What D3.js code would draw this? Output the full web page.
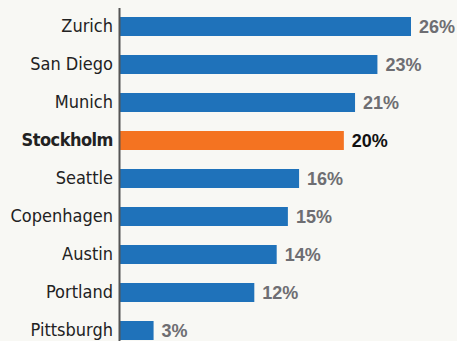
<!DOCTYPE html>
<html>
<head>
<meta charset="utf-8">
<script src="https://cdn.jsdelivr.net/npm/d3@7"></script>
<style>
  html, body { margin: 0; padding: 0; background: #f8f8f4; }
  svg { display: block; }
</style>
</head>
<body>
<svg id="chart" width="457" height="341"></svg>
<script>
// Share of respondents by city
const cities = ["Zurich", "San Diego", "Munich", "Stockholm", "Seattle", "Copenhagen", "Austin", "Portland", "Pittsburgh"];
const shares = [26, 23, 21, 20, 16, 15, 14, 12, 3];
const highlight = "Stockholm";

const data = cities.map((c, i) => ({ city: c, value: shares[i] }));

const svg = d3.select("#chart");
const axisX = 119;

const x = d3.scaleLinear()
  .domain([0, d3.max(shares)])
  .range([120, 411]);

const y = d3.scaleBand()
  .domain(cities)
  .range([7.5, 349.5])
  .paddingInner(0.5)
  .paddingOuter(0.25);

// bars
svg.append("g").selectAll("rect")
  .data(data)
  .join("rect")
  .attr("x", x(0))
  .attr("y", d => y(d.city))
  .attr("width", d => x(d.value) - x(0))
  .attr("height", y.bandwidth())
  .attr("fill", d => d.city === highlight ? "#f47321" : "#1f72ba");

// value labels
svg.append("g").selectAll("text")
  .data(data)
  .join("text")
  .attr("x", d => x(d.value) + 8)
  .attr("y", d => y(d.city) + y.bandwidth() / 2)
  .attr("dy", "0.35em")
  .attr("font-family", "'Liberation Sans', Arial, sans-serif")
  .attr("font-weight", "bold")
  .attr("font-size", 18)
  .attr("fill", d => d.city === highlight ? "#111" : "#6e6e72")
  .text(d => d.value + "%");

// category axis
const yAxis = d3.axisLeft(y).tickSize(0).tickPadding(6);
const g = svg.append("g")
  .attr("transform", `translate(${axisX},0)`)
  .call(yAxis);
g.select(".domain")
  .attr("stroke", "#555")
  .attr("stroke-width", 2);
g.selectAll(".tick text")
  .attr("font-family", "'DejaVu Sans Condensed', 'DejaVu Sans', sans-serif")
  .attr("font-size", 18)
  .attr("fill", "#222")
  .attr("font-weight", d => d === highlight ? "bold" : "normal")
  .attr("letter-spacing", d => d === highlight ? "-0.5px" : null);
</script>
</body>
</html>
